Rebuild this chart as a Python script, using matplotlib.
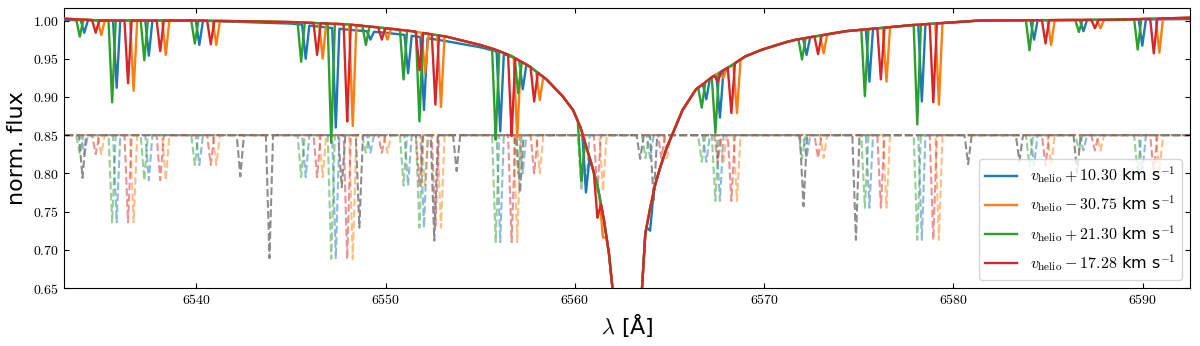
import numpy as np
import matplotlib
matplotlib.use('Agg')
import matplotlib.pyplot as plt
from matplotlib.ticker import MultipleLocator, FormatStrFormatter

plt.rcParams['mathtext.fontset'] = 'cm'

C_KMS = 299792.458

# heliocentric velocities of the four exposures (from the legend)
velocities = [10.30, -30.75, 21.30, -17.28]
colors = ['tab:blue', 'tab:orange', 'tab:green', 'tab:red']

# H-alpha profile (shared by all exposures)
cont_wl = [6532.5, 6535.0, 6540.0, 6545.0, 6548.0, 6550.0, 6551.4, 6553.2, 6555.0,
           6555.8, 6556.7, 6557.6, 6558.5, 6559.35, 6559.9, 6560.3, 6560.83, 6561.18,
           6561.54, 6561.80, 6561.98, 6562.3, 6563.2, 6563.55, 6563.72, 6563.98,
           6564.25, 6564.51, 6564.86, 6565.30, 6565.69, 6566.40, 6567.3, 6568.2,
           6569.0, 6569.9, 6571.2, 6571.7, 6574.3, 6577.8, 6581.4, 6588.4, 6593.0]
cont_flux = [1.003, 1.000, 1.000, 0.998, 0.995, 0.990, 0.986, 0.979, 0.968,
             0.962, 0.953, 0.940, 0.923, 0.901, 0.883, 0.860, 0.816, 0.786,
             0.738, 0.695, 0.651, 0.550, 0.550, 0.651, 0.721, 0.755,
             0.786, 0.808, 0.834, 0.860, 0.883, 0.910, 0.927, 0.940,
             0.953, 0.962, 0.972, 0.975, 0.986, 0.994, 1.000, 1.001, 1.004]
# blue exposure sits a little lower between 6547 and 6556 A
blue_cont_flux = [1.001, 1.000, 1.000, 0.996, 0.988, 0.984, 0.980, 0.973, 0.965,
                  0.960, 0.952, 0.940, 0.923, 0.901, 0.883, 0.860, 0.816, 0.786,
                  0.738, 0.695, 0.651, 0.550, 0.550, 0.651, 0.721, 0.755,
                  0.786, 0.808, 0.834, 0.860, 0.883, 0.910, 0.927, 0.940,
                  0.953, 0.962, 0.972, 0.975, 0.986, 0.994, 1.000, 1.001, 1.002]

# telluric lines (telluric rest frame) and their depth in the offset model
tell_wl = [6534.30, 6536.01, 6537.71, 6540.38, 6546.00, 6547.59, 6549.42, 6551.41,
           6552.25, 6556.28, 6557.47, 6560.81, 6564.20, 6567.17, 6567.89, 6572.47,
           6575.79, 6578.56, 6584.49, 6587.10, 6590.21]
tell_depth = [0.025, 0.114, 0.059, 0.039, 0.055, 0.162, 0.023, 0.066,
              0.121, 0.140, 0.050, 0.073, 0.030, 0.035, 0.086, 0.030,
              0.095, 0.137, 0.040, 0.020, 0.050]

# minimum flux of every telluric line in each observed spectrum (nan = not seen)
nan = np.nan
min_blue = [0.984, 0.912, 0.954, 0.968, 0.950, 0.860, 0.975, 0.931, 0.883, 0.855, 0.910,
            0.775, 0.725, 0.897, 0.873, 0.955, 0.920, 0.894, 0.975, 0.986, 0.967]
min_orange = [0.981, 0.908, 0.955, 0.968, 0.950, 0.862, 0.975, 0.932, 0.887, 0.847, 0.896,
              0.716, nan, 0.925, 0.879, 0.957, 0.920, 0.890, 0.968, 0.990, 0.958]
min_green = [0.979, 0.893, 0.948, 0.970, 0.946, 0.840, 0.968, 0.923, 0.868, 0.844, 0.905,
             0.790, nan, 0.886, 0.853, 0.949, 0.901, 0.864, 0.961, 0.985, 0.962]
min_red = [0.984, 0.918, 0.960, 0.969, 0.955, 0.868, 0.975, 0.935, 0.890, 0.849, 0.894,
           0.742, nan, 0.920, 0.879, 0.956, 0.923, 0.893, 0.970, 0.990, 0.957]

# grey dashed reference spectrum: line centres and minimum flux
grey_wl = [6533.98, 6542.32, 6543.86, 6547.68, 6548.61, 6552.57, 6553.75, 6557.10,
           6563.45, 6564.16, 6572.08, 6574.85, 6580.78, 6583.49, 6586.54]
grey_min = [0.794, 0.796, 0.689, 0.782, 0.729, 0.712, 0.803, 0.775,
            0.819, 0.765, 0.757, 0.713, 0.812, 0.816, 0.801]

MODEL_LEVEL = 0.85
HALF = 0.19  # half width of a line at its base [A]


def build(base_wl, base_flux, centres, minima):
    """Continuum knots with V-shaped absorption lines cut into them."""
    centres = np.asarray(centres, float)
    minima = np.asarray(minima, float)
    keep = ~np.isnan(minima)
    centres, minima = centres[keep], minima[keep]
    x = np.sort(np.concatenate([base_wl, centres - HALF, centres, centres + HALF]))
    y = np.interp(x, base_wl, base_flux)
    for c, m in zip(centres, minima):
        xs = [c - HALF, c, c + HALF]
        ys = [np.interp(xs[0], base_wl, base_flux), m, np.interp(xs[2], base_wl, base_flux)]
        inside = (x >= xs[0]) & (x <= xs[2])
        y[inside] = np.minimum(y[inside], np.interp(x[inside], xs, ys))
    return x, y


fig = plt.figure(figsize=(12, 3.46), dpi=100)
ax = fig.add_axes([0.0533, 0.1676, 0.9383, 0.8084])

flat_wl = [cont_wl[0], cont_wl[-1]]
flat_flux = [MODEL_LEVEL, MODEL_LEVEL]
tell_min = [MODEL_LEVEL - d for d in tell_depth]

# shifted telluric model, offset below the spectra
for v, col in zip(velocities, colors):
    shifted = [w * (1 - v / C_KMS) for w in tell_wl]
    x, y = build(flat_wl, flat_flux, shifted, tell_min)
    ax.plot(x, y, '--', color=col, alpha=0.5, lw=1.5, zorder=1)

x, y = build(flat_wl, flat_flux, grey_wl, grey_min)
ax.plot(x, y, '--', color='grey', alpha=0.9, lw=1.5, zorder=1)

# observed spectra
minima = [min_blue, min_orange, min_green, min_red]
bases = [blue_cont_flux, cont_flux, cont_flux, cont_flux]
for v, col, mins, base in zip(velocities, colors, minima, bases):
    shifted = [w * (1 - v / C_KMS) for w in tell_wl]
    x, y = build(cont_wl, base, shifted, mins)
    sign = '+' if v > 0 else '-'
    label = r'$v_{\rm helio} %s %.2f$ km s$^{-1}$' % (sign, abs(v))
    ax.plot(x, y, color=col, lw=1.7, label=label, zorder=3)

ax.set_xlim(6533.0, 6592.5)
ax.set_ylim(0.65, 1.016)
ax.xaxis.set_major_locator(MultipleLocator(10))
ax.yaxis.set_major_locator(MultipleLocator(0.05))
ax.xaxis.set_major_formatter(FormatStrFormatter(r'$%d$'))
ax.yaxis.set_major_formatter(FormatStrFormatter(r'$%.2f$'))
ax.tick_params(direction='in', top=True, right=True, labelsize=10)

ax.set_xlabel(r'$\lambda$ [Å]', fontsize=16)
ax.set_ylabel('norm. flux', fontsize=16)
ax.legend(loc='lower right', fontsize=11.5)

fig.savefig('out.png', dpi=100)
